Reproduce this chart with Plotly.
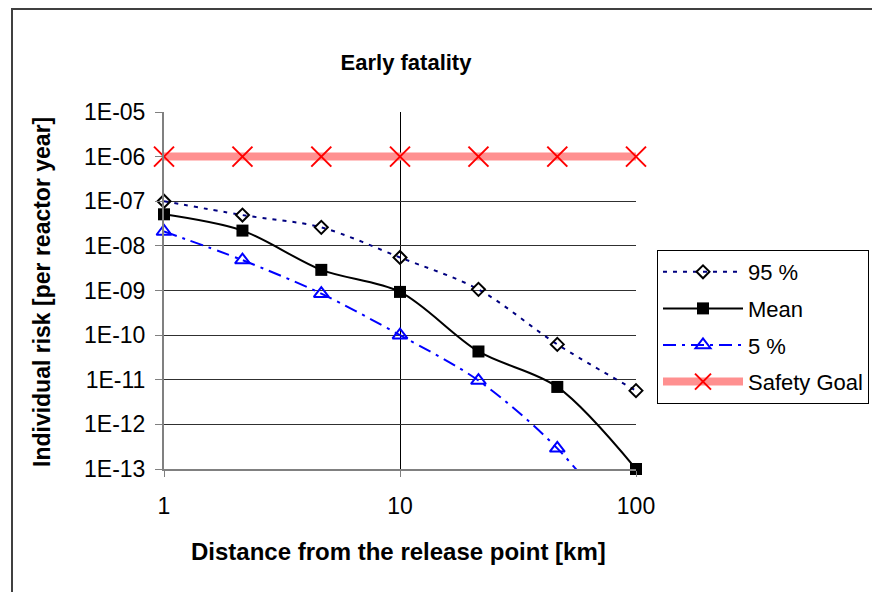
import plotly.graph_objects as go

# ---- data ----
distance_km = [1, 2.15, 4.64, 10, 21.5, 46.4, 100]
risk_95 = [1.0e-7, 4.9e-8, 2.6e-8, 5.5e-9, 1.06e-9, 6.2e-11, 5.7e-12]
risk_mean = [5.1e-8, 2.2e-8, 2.9e-9, 9.3e-10, 4.3e-11, 6.9e-12, 1.0e-13]
risk_5 = [2.1e-8, 4.8e-9, 8.5e-10, 1.0e-10, 9.6e-12, 2.9e-13, 2.0e-15]
safety_goal = [1e-6, 1e-6, 1e-6, 1e-6, 1e-6, 1e-6, 1e-6]

y_tick_vals = [1e-5, 1e-6, 1e-7, 1e-8, 1e-9, 1e-10, 1e-11, 1e-12, 1e-13]
y_tick_text = ["1E-05", "1E-06", "1E-07", "1E-08", "1E-09", "1E-10", "1E-11", "1E-12", "1E-13"]
x_tick_vals = [1, 10, 100]
x_tick_text = ["1", "10", "100"]

FONT = "Liberation Sans, Arial, sans-serif"
W, H = 880, 592
OFF = 8  # page body margin offset
L, R, T, B = 164 - OFF, 636 - OFF, 112 - OFF, 469 - OFF  # plot area in figure px


def px_x(p):
    return (p - OFF - L) / (R - L)


def px_y(p):
    return (B - (p - OFF)) / (B - T)


fig = go.Figure()

fig.add_trace(go.Scatter(
    x=distance_km, y=risk_95, name="95 %", mode="lines+markers",
    line=dict(color="#000080", width=2, dash="4px,6px", shape="spline", smoothing=0.9),
    marker=dict(symbol="diamond-open", size=10, color="black", line=dict(color="black", width=2)),
    cliponaxis=False, legendgroup="g1"))

fig.add_trace(go.Scatter(
    x=distance_km, y=risk_mean, name="Mean", mode="lines+markers",
    line=dict(color="black", width=2, shape="spline", smoothing=0.9),
    marker=dict(symbol="square", size=12, color="black"),
    cliponaxis=False, legendgroup="g2"))

# 5 % : line over all points (clipped by plot area), markers only inside range
fig.add_trace(go.Scatter(
    x=distance_km, y=risk_5, name="5 %", mode="lines",
    line=dict(color="#0000FF", width=2, dash="13px,6px,3px,6px", shape="spline", smoothing=0.9),
    showlegend=False, legendgroup="g3", hoverinfo="skip"))
in_range = [i for i, v in enumerate(risk_5) if v >= 1e-13]
fig.add_trace(go.Scatter(
    x=[distance_km[i] for i in in_range], y=[risk_5[i] for i in in_range],
    name="5 %", mode="markers",
    marker=dict(symbol="triangle-up-open", size=13, color="#0000FF", line=dict(color="#0000FF", width=2)),
    cliponaxis=False, showlegend=False, legendgroup="g3"))
fig.add_trace(go.Scatter(
    x=[None], y=[None], name="5 %", mode="lines+markers",
    line=dict(color="#0000FF", width=2, dash="13px,6px,3px,6px"),
    marker=dict(symbol="triangle-up-open", size=13, color="#0000FF", line=dict(color="#0000FF", width=2)),
    legendgroup="g3"))

fig.add_trace(go.Scatter(
    x=distance_km, y=safety_goal, name="Safety Goal", mode="lines+markers",
    line=dict(color="#FF9090", width=8),
    marker=dict(symbol="x-thin", size=20, color="#FF0000", line=dict(color="#FF0000", width=2)),
    cliponaxis=False, legendgroup="g4"))

fig.update_layout(
    width=W, height=H,
    margin=dict(l=L, r=W - R, t=T, b=H - B),
    paper_bgcolor="white", plot_bgcolor="white",
    font=dict(family=FONT, color="black"),
    title=dict(text="<b>Early fatality</b>", x=px_x(406), xref="paper",
               y=1 - (62 - OFF) / H, yref="container", xanchor="center", yanchor="middle",
               font=dict(size=22, family=FONT, color="black")),
    showlegend=True,
    legend=dict(x=px_x(657), y=px_y(250), xanchor="left", yanchor="top",
                bordercolor="black", borderwidth=1, bgcolor="white",
                font=dict(size=22, family=FONT), traceorder="grouped",
                tracegroupgap=5, itemwidth=80),
)

fig.update_xaxes(
    type="log", range=[0, 2], tickvals=x_tick_vals, ticktext=x_tick_text,
    showgrid=True, gridcolor="black", gridwidth=1,
    showline=True, linecolor="#808080", linewidth=2,
    ticks="outside", ticklen=6, tickcolor="#808080", tickwidth=1,
    tickfont=dict(size=23, family=FONT), ticklabelstandoff=9,
    zeroline=False)
fig.update_yaxes(
    type="log", range=[-13, -5], tickvals=y_tick_vals, ticktext=y_tick_text,
    showgrid=True, gridcolor="#303030", gridwidth=1,
    showline=True, linecolor="#808080", linewidth=2,
    ticks="outside", ticklen=7, tickcolor="#808080", tickwidth=1,
    tickfont=dict(size=23, family=FONT), ticklabelstandoff=5,
    zeroline=False)

fig.add_annotation(text="<b>Individual risk [per reactor year]</b>", xref="paper", yref="paper",
                   x=px_x(42), y=px_y(292), textangle=-90, showarrow=False,
                   font=dict(size=23, family=FONT, color="black"),
                   xanchor="center", yanchor="middle")
fig.add_annotation(text="<b>Distance from the release point [km]</b>", xref="paper", yref="paper",
                   x=px_x(398), y=px_y(551), showarrow=False,
                   font=dict(size=24, family=FONT, color="black"),
                   xanchor="center", yanchor="middle")

# outer chart frame
fig.add_shape(type="rect", xref="paper", yref="paper",
              x0=px_x(12), x1=px_x(900), y0=px_y(610), y1=px_y(9),
              line=dict(color="#404040", width=2), fillcolor="rgba(0,0,0,0)", layer="below")

fig.write_html("out.html")
